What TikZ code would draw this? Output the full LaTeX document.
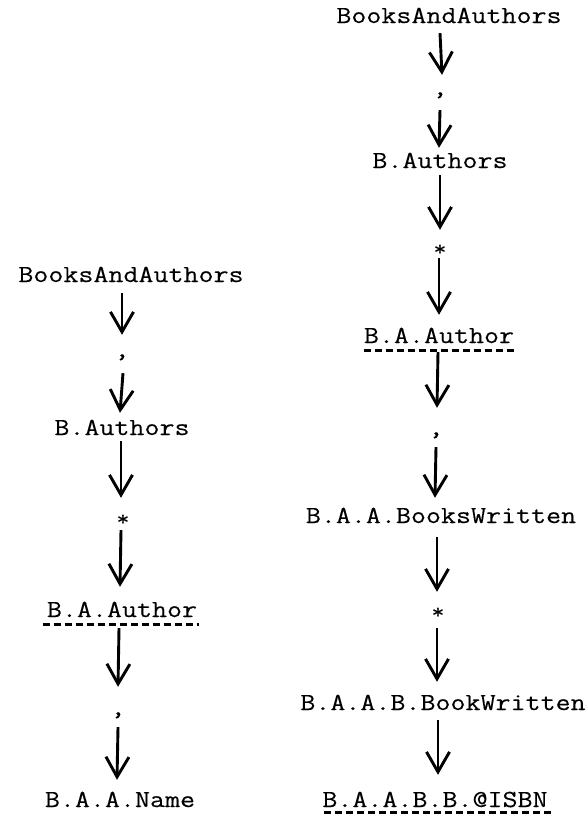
\documentclass[tikz,border=0pt]{standalone}
\usepackage{fontspec}
\newfontfamily\diagfont[FakeStretch=1.19,FakeBold=0.25]{Latin Modern Mono}
\usetikzlibrary{arrows.meta,calc}

\tikzset{
  lbl/.style={font=\diagfont\fontsize{24.5}{30}\selectfont, inner sep=0pt,
              text height=15pt, text depth=0pt, anchor=base},
  sep/.style={lbl, font=\diagfont\fontsize{21}{26}\selectfont},
  arr/.style={line width=2.9pt, -{Straight Barb[length=20pt,width=23pt]}},
  keyline/.style={line width=2.8pt, dash pattern=on 7pt off 4pt}
}

\begin{document}
\begin{tikzpicture}[x=1pt,y=-1pt]
\useasboundingbox (0,0) rectangle (587,817);

% left path
\node[lbl] (L1)  at (131,282)   {BooksAndAuthors};
\node[lbl] (Lc1) at (122,357)   {,};
\node[lbl] (L2)  at (122,435)   {B.Authors};
\node[sep] (Ls1) at (123,525.5) {*};
\node[lbl] (L3)  at (122,617)   {B.A.Author};
\node[lbl] (Lc2) at (118,715)   {,};
\node[lbl] (L4)  at (120,807)   {B.A.A.Name};

\draw[arr] ($(L1.south)+(-9,11)$)    -- ($(Lc1.north)+(0,-7)$);
\draw[arr] ($(Lc1.south)+(1,16)$)    -- ($(L2.north)+(-2,-7)$);
\draw[arr] ($(L2.south)+(-1,6)$)     -- ($(Ls1.north)+(-2,-12.5)$);
\draw[arr] ($(Ls1.south)+(-2,4.5)$)  -- ($(L3.north)+(-2,-15)$);
\draw[arr] ($(L3.south)+(-3,11)$)    -- ($(Lc2.north)+(0,-13)$);
\draw[arr] ($(Lc2.south)+(0,12)$)    -- ($(L4.north)+(-3,-12)$);

\draw[keyline] ($(L3.south west)+(-4,7)$) -- ($(L3.south east)+(2,7)$);

% right path
\node[lbl] (R1)  at (449,23)    {BooksAndAuthors};
\node[lbl] (Rc1) at (440,95)    {,};
\node[lbl] (R2)  at (440,168)   {B.Authors};
\node[sep] (Rs1) at (440,255.5) {*};
\node[lbl] (R3)  at (439,343)   {B.A.Author};
\node[lbl] (Rc2) at (436,435)   {,};
\node[lbl] (R4)  at (441,523)   {B.A.A.BooksWritten};
\node[sep] (Rs2) at (438,618.5) {*};
\node[lbl] (R5)  at (443,710)   {B.A.A.B.BookWritten};
\node[lbl] (R6)  at (435,807)   {B.A.A.B.B.@ISBN};

\draw[arr] ($(R1.south)+(-9,10)$)    -- ($(Rc1.north)+(2,-5)$);
\draw[arr] ($(Rc1.south)+(0,15)$)    -- ($(R2.north)+(-1,-5)$);
\draw[arr] ($(R2.south)+(0,7)$)      -- ($(Rs1.north)+(0,-10.5)$);
\draw[arr] ($(Rs1.south)+(-1,2.5)$)  -- ($(R3.north)+(0,-13)$);
\draw[arr] ($(R3.south)+(-1,9)$)     -- ($(Rc2.north)+(1,-12)$);
\draw[arr] ($(Rc2.south)+(0,12)$)    -- ($(R4.north)+(-6,-10)$);
\draw[arr] ($(R4.south)+(-4,14)$)    -- ($(Rs2.north)+(-1,-11.5)$);
\draw[arr] ($(Rs2.south)+(-1,9.5)$)  -- ($(R5.north)+(-6,-13)$);
\draw[arr] ($(R5.south)+(-5,10)$)    -- ($(R6.north)+(3,-17)$);

\draw[keyline] ($(R3.south west)+(0,7)$) -- ($(R3.south east)+(0,7)$);
\draw[keyline] ($(R6.south west)+(2,5)$) -- ($(R6.south east)+(3,5)$);
\end{tikzpicture}
\end{document}
